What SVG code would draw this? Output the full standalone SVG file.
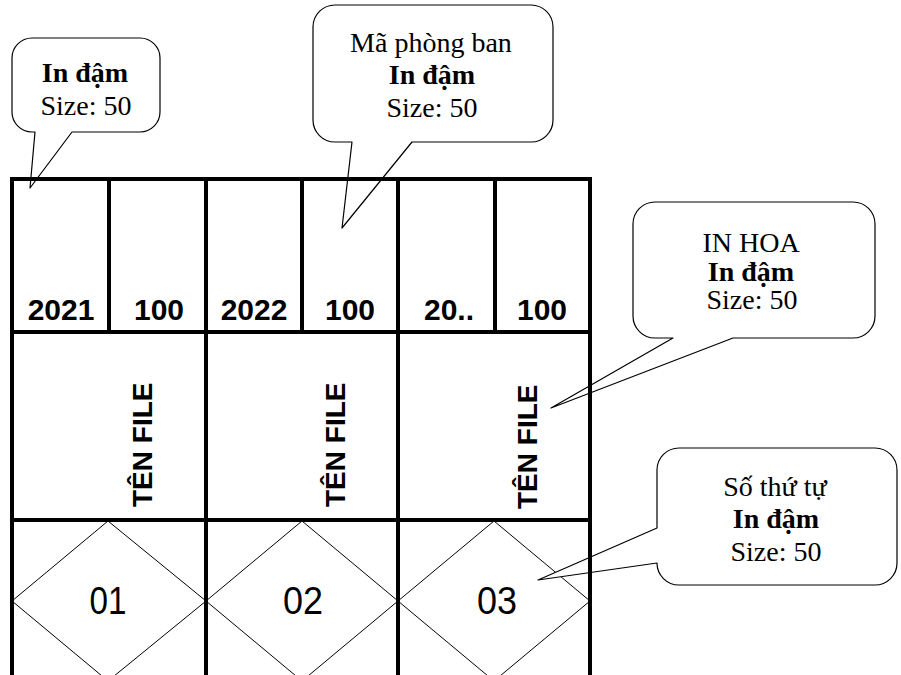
<svg xmlns="http://www.w3.org/2000/svg" width="901" height="675" viewBox="0 0 901 675">
<style>
.grid{stroke:#000;stroke-width:4;fill:none;stroke-linecap:square}
.dia{fill:#fff;stroke:#000;stroke-width:1}
.bub{fill:#fff;stroke:#000;stroke-width:1.2;stroke-linejoin:round}
.bt{font-family:"Liberation Serif","Times New Roman",serif;font-size:28px;text-anchor:middle;fill:#000}
.b{font-weight:bold}
.yr{font-family:"Liberation Sans",Arial,sans-serif;font-weight:bold;font-size:30px;text-anchor:middle;fill:#000}
.tf{font-family:"Liberation Sans",Arial,sans-serif;font-weight:bold;font-size:28px;fill:#000}
.num{font-family:"Liberation Sans",Arial,sans-serif;font-size:38px;text-anchor:middle;fill:#000}
</style>
<rect width="901" height="675" fill="#fff"/>
<g id="diamonds">
<polygon class="dia" points="108,521 206,601 108,681 12,601"/>
<polygon class="dia" points="302,521 398,601 302,681 206,601"/>
<polygon class="dia" points="494,521 590,601 494,681 398,601"/>
</g>
<g id="callout-1">
<path class="bub" d="M32,38 H140 A20,20 0 0 1 160,58 V112 A20,20 0 0 1 140,132 H72 L30,188 L35,132 H32 A20,20 0 0 1 12,112 V58 A20,20 0 0 1 32,38 Z"/>
<text class="bt b" x="85" y="82">In đậm</text>
<text class="bt" x="86" y="115">Size: 50</text>
</g>
<g id="callout-2">
<path class="bub" d="M335,5 H531 A22,22 0 0 1 553,27 V120 A22,22 0 0 1 531,142 H412 L342,228 L352,142 H335 A22,22 0 0 1 313,120 V27 A22,22 0 0 1 335,5 Z"/>
<text class="bt" x="431" y="52">Mã phòng ban</text>
<text class="bt b" x="432" y="84">In đậm</text>
<text class="bt" x="432" y="117">Size: 50</text>
</g>
<g id="callout-3">
<path class="bub" d="M655,202 H853 A22,22 0 0 1 875,224 V316 A22,22 0 0 1 853,338 H733 L551,408 L673,338 H655 A22,22 0 0 1 633,316 V224 A22,22 0 0 1 655,202 Z"/>
<text class="bt" x="751" y="252">IN HOA</text>
<text class="bt b" x="751" y="281">In đậm</text>
<text class="bt" x="752" y="309">Size: 50</text>
</g>
<g id="callout-4">
<path class="bub" d="M679,448 H875 A22,22 0 0 1 897,470 V563 A22,22 0 0 1 875,585 H679 A22,22 0 0 1 657,563 L538,580 L657,528 V470 A22,22 0 0 1 679,448 Z"/>
<text class="bt" x="775" y="496">Số thứ tự</text>
<text class="bt b" x="776" y="528">In đậm</text>
<text class="bt" x="776" y="561">Size: 50</text>
</g>
<g id="grid">
<path class="grid" d="M12,179 H590 M12,332 H590 M12,520 H590 M12,179 V677 M206,179 V677 M398,179 V677 M590,179 V677 M109,179 V332 M302,179 V332 M495,179 V332"/>
</g>
<g id="labels">
<text class="yr" x="61" y="320">2021</text>
<text class="yr" x="159" y="320">100</text>
<text class="yr" x="254" y="320">2022</text>
<text class="yr" x="350" y="320">100</text>
<text class="yr" x="449" y="320">20..</text>
<text class="yr" x="542" y="320">100</text>
<text class="tf" transform="translate(152,507) rotate(-90)">TÊN FILE</text>
<text class="tf" transform="translate(345,507) rotate(-90)">TÊN FILE</text>
<text class="tf" transform="translate(537,509) rotate(-90)">TÊN FILE</text>
<text class="num" x="108" y="614" textLength="37" lengthAdjust="spacingAndGlyphs">01</text>
<text class="num" x="303" y="614" textLength="40" lengthAdjust="spacingAndGlyphs">02</text>
<text class="num" x="497" y="614" textLength="40" lengthAdjust="spacingAndGlyphs">03</text>
</g>
</svg>
